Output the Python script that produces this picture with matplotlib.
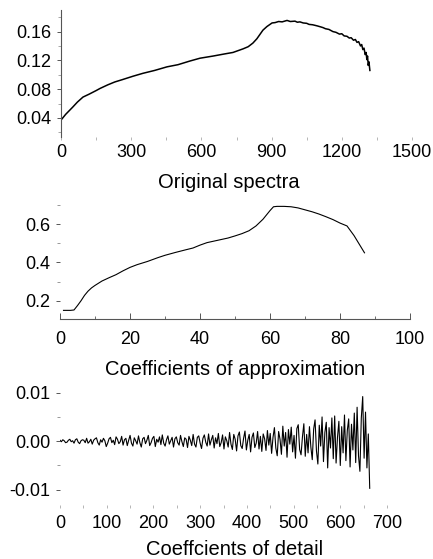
import numpy as np
import matplotlib
matplotlib.use("Agg")
import matplotlib.pyplot as plt
from matplotlib.ticker import MultipleLocator, FormatStrFormatter

plt.rcParams['font.family'] = ['Liberation Sans', 'DejaVu Sans']
plt.rcParams['axes.unicode_minus'] = False

# --- original spectrum ---
spec_x = [0, 10, 20, 35, 50, 70, 94, 120, 150, 167, 200, 230, 260, 308, 350,
          400, 453, 500, 550, 594, 650, 700, 735, 778, 800, 820, 837, 850,
          863, 880, 902, 915, 930, 945, 966, 980, 1000, 1010, 1021, 1035,
          1050, 1060, 1075, 1094, 1110, 1120, 1130, 1145, 1162, 1175, 1190,
          1200, 1210, 1222, 1232, 1240, 1250, 1258, 1265, 1272, 1280, 1285,
          1290, 1295, 1300, 1304, 1307, 1310, 1313, 1316, 1320]
spec_y = [0.037, 0.041, 0.045, 0.050, 0.055, 0.062, 0.069, 0.073, 0.078,
          0.081, 0.086, 0.090, 0.093, 0.098, 0.102, 0.106, 0.111, 0.114,
          0.119, 0.123, 0.126, 0.129, 0.131, 0.136, 0.139, 0.144, 0.150,
          0.156, 0.162, 0.167, 0.172, 0.1725, 0.174, 0.1735, 0.1755, 0.174,
          0.1745, 0.173, 0.1735, 0.172, 0.1715, 0.170, 0.1695, 0.168, 0.1665,
          0.1655, 0.164, 0.163, 0.160, 0.159, 0.1565, 0.157, 0.154, 0.1535,
          0.151, 0.1515, 0.148, 0.149, 0.145, 0.146, 0.140, 0.142, 0.135,
          0.137, 0.128, 0.131, 0.121, 0.126, 0.113, 0.118, 0.106]

# --- approximation coefficients ---
approx_x = [1, 2, 3, 4, 5, 6, 7, 8, 9, 10, 12, 14, 16, 18, 20, 22, 25, 28,
            30, 33, 36, 38, 40, 42, 45, 48, 50, 52, 54, 56, 58, 60, 61, 62,
            64, 66, 68, 70, 72, 74, 76, 78, 80, 82, 84, 86, 87]
approx_y = [0.15, 0.15, 0.15, 0.152, 0.175, 0.20, 0.228, 0.25, 0.267, 0.28,
            0.303, 0.32, 0.336, 0.356, 0.374, 0.388, 0.405, 0.425, 0.437,
            0.452, 0.466, 0.475, 0.49, 0.503, 0.515, 0.527, 0.538, 0.55,
            0.565, 0.59, 0.625, 0.67, 0.69, 0.692, 0.692, 0.69, 0.684, 0.674,
            0.664, 0.652, 0.638, 0.623, 0.605, 0.59, 0.54, 0.48, 0.45]

# --- detail coefficients (x1e-4), one every 3 samples ---
detail = [2, -1, 3, 1, -3, -2, 2, 4, -1, 1, -4, 3, 5, -2, -5, 1, 3, 2, -3, 6,
          -4, -1, 4, -6, 2, 5, 7, -3, -8, 3,
          -2, 6, 1, -11, -4, 5, 8, -3, 2, -7, 9, 4, -5, -1, 10, -8, 3, 6, -9, 2,
          12, -4, -10, 7, 1, -6, 11, -3, -12, 5,
          8, -5, 2, 12, -9, -3, 6, 10, -11, 4, -2, 9, -7, 13, -4, -10, 3, 11,
          -6, 1, 8, -12, 5, 9, -3, -8, 12, -1, -11, 7,
          4, -13, 10, 2, -9, 14, -6, -12, 8, 11, -4, -15, 6, 13, -2, -10, 15,
          -8, 3, 12, -14, 7, -5, 16, -11, -3, 13, -16, 9, 1,
          -12, 18, -6, -17, 14, 4, -20, 11, 19, -9, -15, 6, 21, -18, 2, 14,
          -22, 8, 17, -13, -4, 20, -16, 10, -21, 15, 5, -19, 22, -8,
          16, -25, 8, 28, -14, -30, 20, 4, -27, 31, -10, 18, -33, 24, -6, 29,
          -22, 12, -35, 26, 34, -17, -28, 9, 36, -31, 14, -24, 30, -12,
          -38, 25, 44, -20, -47, 33, -10, 50, -42, 18, 39, -55, 28, -14, 48,
          -36, 52, -45, 8, 41, -50, 30, -24, 54, -40, 22, 46, -53, 35, -18,
          58, -44, 70, -30, -62, 48, 92, -35, 60, -55, 15, -97]

fig = plt.figure(figsize=(4.33, 5.59), dpi=100)
W, H = 433.0, 559.0

def box(l, t, r, b):
    return [l / W, 1 - b / H, (r - l) / W, (b - t) / H]

tick_fs = 13
lab_fs = 14.5
gray = '#555555'

# ---- panel 1 ----
ax1 = fig.add_axes(box(61, 10, 412, 137))
ax1.plot(spec_x, spec_y, color='black', lw=1.1)
ax1.set_xlim(0, 1500)
ax1.set_ylim(0.0135, 0.19)
ax1.set_xticks([0, 300, 600, 900, 1200, 1500])
ax1.xaxis.set_minor_locator(MultipleLocator(150))
ax1.set_yticks([0.04, 0.08, 0.12, 0.16])
ax1.yaxis.set_minor_locator(MultipleLocator(0.02))
ax1.yaxis.set_major_formatter(FormatStrFormatter('%.2f'))
for s in ['top', 'right', 'bottom']:
    ax1.spines[s].set_visible(False)
ax1.spines['left'].set_color(gray)
ax1.spines['left'].set_linewidth(0.8)
ax1.tick_params(axis='y', which='major', length=3, width=0.7, color=gray,
                labelsize=tick_fs, pad=4)
ax1.tick_params(axis='y', which='minor', length=2, width=0.6, color='#999999')
ax1.tick_params(axis='x', which='both', length=2, width=0.6, color='#aaaaaa',
                labelsize=tick_fs, pad=3)

# ---- panel 2 ----
ax2 = fig.add_axes(box(60, 201, 410, 319))
ax2.plot(approx_x, approx_y, color='black', lw=0.8)
ax2.set_xlim(0, 100)
ax2.set_ylim(0.105, 0.72)
ax2.set_xticks([0, 20, 40, 60, 80, 100])
ax2.xaxis.set_minor_locator(MultipleLocator(10))
ax2.set_yticks([0.2, 0.4, 0.6])
ax2.yaxis.set_minor_locator(MultipleLocator(0.1))
for s in ['top', 'right', 'left']:
    ax2.spines[s].set_visible(False)
ax2.spines['bottom'].set_color(gray)
ax2.spines['bottom'].set_linewidth(0.8)
ax2.tick_params(axis='x', which='major', direction='in', length=4, width=0.7,
                color=gray, labelsize=tick_fs, pad=9)
ax2.tick_params(axis='x', which='minor', direction='in', length=2, width=0.6,
                color=gray)
ax2.tick_params(axis='y', which='major', length=3, width=0.7, color=gray,
                labelsize=tick_fs, pad=4)
ax2.tick_params(axis='y', which='minor', length=2, width=0.6, color='#888888')

# ---- panel 3 ----
ax3 = fig.add_axes(box(60, 382, 387, 505))
det_x = np.arange(len(detail)) * 3
ax3.plot(det_x, np.array(detail) * 1e-4, color='black', lw=0.8)
ax3.set_xlim(0, 700)
ax3.set_ylim(-0.01314, 0.0122)
ax3.set_xticks([0, 100, 200, 300, 400, 500, 600, 700])
ax3.xaxis.set_minor_locator(MultipleLocator(50))
ax3.set_yticks([-0.01, 0.0, 0.01])
ax3.yaxis.set_minor_locator(MultipleLocator(0.005))
ax3.yaxis.set_major_formatter(FormatStrFormatter('%.2f'))
for s in ax3.spines.values():
    s.set_visible(False)
ax3.tick_params(axis='y', which='major', length=3, width=0.7, color=gray,
                labelsize=tick_fs, pad=4)
ax3.tick_params(axis='y', which='minor', length=2, width=0.6, color='#888888')
ax3.tick_params(axis='x', which='both', length=2, width=0.6, color='#aaaaaa',
                labelsize=tick_fs, pad=5)

# panel titles under each axis
fig.text(229 / W, 1 - 188 / H, 'Original spectra', ha='center',
         va='baseline', fontsize=lab_fs)
fig.text(235 / W, 1 - 375 / H, 'Coefficients of approximation', ha='center',
         va='baseline', fontsize=lab_fs)
fig.text(235 / W, 1 - 555 / H, 'Coeffcients of detail', ha='center',
         va='baseline', fontsize=lab_fs)

fig.savefig('out.png', dpi=100)
